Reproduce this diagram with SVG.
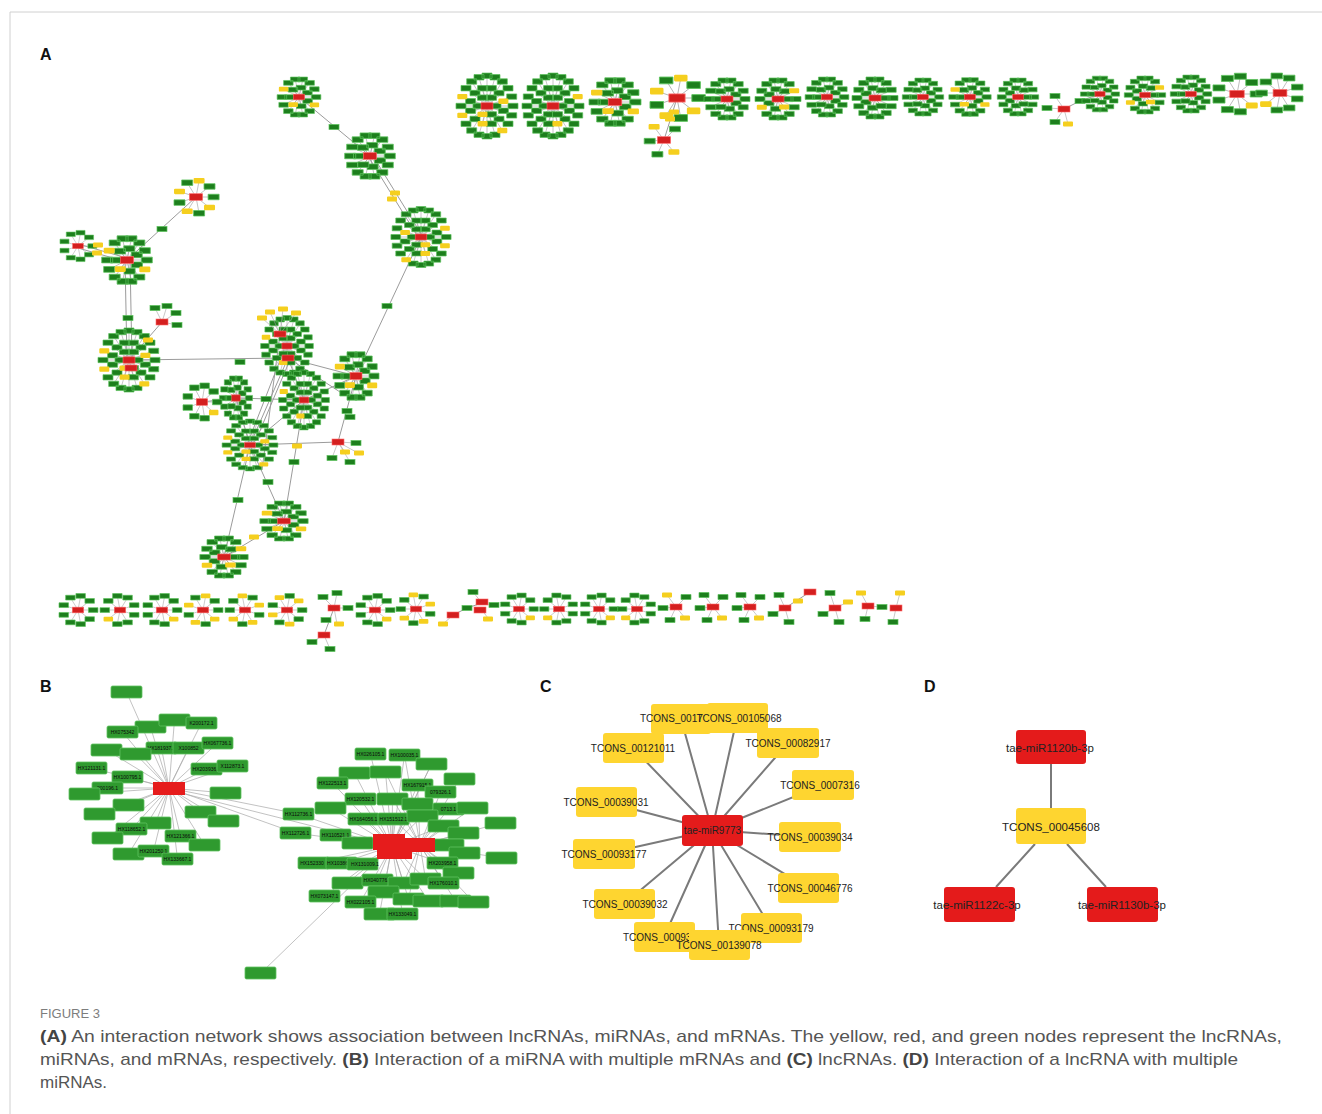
<svg xmlns="http://www.w3.org/2000/svg" width="1322" height="1114" viewBox="0 0 1322 1114">
<style>
.sp{stroke:#a3a3a3;stroke-width:0.6;fill:none}
.gA{fill:#1d7f1d;stroke:#5cc25c;stroke-width:0.7}
.yA{fill:#f5cf1f;stroke:#f5cf1f;stroke-width:2;stroke-linejoin:round}
.rA{fill:#d41f1f;stroke:#ff6a6a;stroke-width:0.6}
.eA{stroke:#9b9b9b;stroke-width:1;fill:none}
.gB{fill:#2f9a2f;stroke:#5fc35f;stroke-width:0.8}
.rB{fill:#e61c1c}
.eB{stroke:#a8a8a8;stroke-width:0.7;fill:none}
.tB{font-family:"Liberation Sans",Arial,sans-serif;font-size:5px;fill:#0a0a0a;text-anchor:middle}
.yC{fill:#fed530}
.rC{fill:#e41b1b}
.eC{stroke:#7a7a7a;stroke-width:2;fill:none}
.tC{font-family:"Liberation Sans",Arial,sans-serif;font-size:10px;fill:#222;text-anchor:middle}
.tD{font-family:"Liberation Sans",Arial,sans-serif;font-size:11.5px;fill:#222;text-anchor:middle}
.lbl{font-family:"Liberation Sans",Arial,sans-serif;font-size:16px;font-weight:bold;fill:#111}
.cap{font-family:"Liberation Sans",Arial,sans-serif;font-size:17px;fill:#555}
.capb{font-weight:bold;fill:#444}
</style>
<defs>
<rect id="hub" class="rA" x="-6" y="-3" width="12" height="6"/>
<rect id="gn" class="gA" x="-5" y="-2.5" width="10" height="5"/>
<rect id="yn" class="yA" x="-4" y="-1.5" width="8" height="3"/>
<path id="spL" d="M0 0 26 0M0 0 24.7 8.7M0 0 21 16.5M0 0 15.3 22.7M0 0 8 26.6M0 0 0 28M0 0 -8 26.6M0 0 -15.3 22.7M0 0 -21 16.5M0 0 -24.7 8.7M0 0 -26 0M0 0 -24.7 -8.7M0 0 -21 -16.5M0 0 -15.3 -22.7M0 0 -8 -26.6M0 0 0 -28M0 0 8 -26.6M0 0 15.3 -22.7M0 0 21 -16.5M0 0 24.7 -8.7M0 0 16.4 4.4M0 0 12 12M0 0 4.4 16.4M0 0 -4.4 16.4M0 0 -12 12M0 0 -16.4 4.4M0 0 -16.4 -4.4M0 0 -12 -12M0 0 -4.4 -16.4M0 0 4.4 -16.4M0 0 12 -12M0 0 16.4 -4.4"/>
<path id="Lg" d="M21 -2.5h10v5h-10zM19.7 6.2h10v5h-10zM16 14h10v5h-10zM3 24.1h10v5h-10zM-5 25.5h10v5h-10zM-13 24.1h10v5h-10zM-20.3 20.2h10v5h-10zM-26 14h10v5h-10zM-31 -2.5h10v5h-10zM-26 -19h10v5h-10zM-20.3 -25.2h10v5h-10zM-13 -29.1h10v5h-10zM-5 -30.5h10v5h-10zM3 -29.1h10v5h-10zM10.3 -25.2h10v5h-10zM16 -19h10v5h-10zM19.7 -11.2h10v5h-10zM11.4 1.9h10v5h-10zM7 9.5h10v5h-10zM-0.6 13.9h10v5h-10zM-17 9.5h10v5h-10zM-21.4 1.9h10v5h-10zM-21.4 -6.9h10v5h-10zM-17 -14.5h10v5h-10zM-9.4 -18.9h10v5h-10zM-0.6 -18.9h10v5h-10zM7 -14.5h10v5h-10zM4 -2.5h10v5h-10zM-0.5 5.3h10v5h-10zM-14 -2.5h10v5h-10zM-9.5 -10.3h10v5h-10zM-0.5 -10.3h10v5h-10z"/>
<g id="L0"><use href="#spL" class="sp"/><use href="#Lg" class="gA"/><path class="yA" d="M11.3 21.2h8v3h-8zM-28.7 7.2h8v3h-8zM-28.7 -10.2h8v3h-8zM-8.4 14.9h8v3h-8zM12.4 -5.9h8v3h-8zM-8.5 6.3h8v3h-8z"/><use href="#hub"/></g>
<g id="L1"><use href="#spL" class="sp"/><use href="#Lg" class="gA"/><path class="gA" d="M10.3 20.2h10v5h-10zM-29.7 6.2h10v5h-10zM11.4 -6.9h10v5h-10zM-9.5 5.3h10v5h-10z"/><path class="yA" d="M-28.7 -10.2h8v3h-8zM-8.4 14.9h8v3h-8z"/><use href="#hub"/></g>
<path id="spM" d="M0 0 18 0M0 0 16.2 8.2M0 0 11.2 14.9M0 0 4 18.5M0 0 -4 18.5M0 0 -11.2 14.9M0 0 -16.2 8.2M0 0 -18 0M0 0 -16.2 -8.2M0 0 -11.2 -14.9M0 0 -4 -18.5M0 0 4 -18.5M0 0 11.2 -14.9M0 0 16.2 -8.2M0 0 9.1 4.2M0 0 2.4 9.7M0 0 -6.1 7.9M0 0 -10 0M0 0 -6.4 -7.7M0 0 2.1 -9.8M0 0 8.9 -4.5"/>
<path id="Mg" d="M13 -2.5h10v5h-10zM6.2 12.4h10v5h-10zM-1 16h10v5h-10zM-9 16h10v5h-10zM-16.2 12.4h10v5h-10zM-21.2 5.7h10v5h-10zM-23 -2.5h10v5h-10zM-16.2 -17.4h10v5h-10zM-9 -21h10v5h-10zM-1 -21h10v5h-10zM6.2 -17.4h10v5h-10zM11.2 -10.7h10v5h-10zM4.1 1.7h10v5h-10zM-2.6 7.2h10v5h-10zM-15 -2.4h10v5h-10zM-11.4 -10.2h10v5h-10zM-2.9 -12.3h10v5h-10zM3.9 -7h10v5h-10z"/>
<g id="M0"><use href="#spM" class="sp"/><use href="#Mg" class="gA"/><path class="gA" d="M11.2 5.7h10v5h-10zM-21.2 -10.7h10v5h-10zM-11.1 5.4h10v5h-10z"/><use href="#hub"/></g>
<g id="M1"><use href="#spM" class="sp"/><use href="#Mg" class="gA"/><path class="yA" d="M12.2 6.7h8v3h-8zM-20.2 -9.7h8v3h-8zM-10.1 6.4h8v3h-8z"/><use href="#hub"/></g>
<path id="spS" d="M0 0 16 0M0 0 12.3 9.6M0 0 2.8 14.8M0 0 -8 13M0 0 -15 5.1M0 0 -15 -5.1M0 0 -8 -13M0 0 2.8 -14.8M0 0 12.3 -9.6"/>
<path id="Sg" d="M11 -2.5h10v5h-10zM-2.2 12.3h10v5h-10zM-20 2.6h10v5h-10zM-13 -15.5h10v5h-10zM7.3 -12.1h10v5h-10z"/>
<path id="Sx" d="M-13 10.5h10v5h-10zM-20 -7.6h10v5h-10zM-2.2 -17.3h10v5h-10z"/>
<g id="S0"><use href="#spS" class="sp"/><use href="#Sg" class="gA"/><use href="#Sx" class="gA"/><path class="gA" d="M7.3 7.1h10v5h-10z"/><use href="#hub"/></g>
<g id="S1"><use href="#spS" class="sp"/><use href="#Sg" class="gA"/><use href="#Sx" class="gA"/><path class="yA" d="M8.3 8.1h8v3h-8z"/><use href="#hub"/></g>
<g id="S3"><use href="#spS" class="sp"/><use href="#Sg" class="gA"/><path class="yA" d="M8.3 8.1h8v3h-8zM-12 11.5h8v3h-8zM-19 -6.6h8v3h-8zM-1.2 -16.3h8v3h-8z"/><use href="#hub"/></g>
<path id="spP" d="M0 0 -9 -12M0 0 10 -10M0 0 -13 1M0 0 -6 13M0 0 9 11"/>
<g id="P1"><use href="#spP" class="sp"/><path class="gA" d="M-14 -14.5h10v5h-10zM5 -12.5h10v5h-10zM-18 -1.5h10v5h-10zM-11 10.5h10v5h-10z"/><path class="yA" d="M5 9.5h8v3h-8z"/><use href="#hub"/></g>
<g id="P2"><use href="#spP" class="sp"/><path class="gA" d="M5 -12.5h10v5h-10zM-18 -1.5h10v5h-10zM-11 10.5h10v5h-10z"/><path class="yA" d="M-13 -13.5h8v3h-8zM5 9.5h8v3h-8z"/><use href="#hub"/></g>
<rect id="bn" class="gB" width="31" height="12" rx="1.5"/>
</defs>
<rect width="1322" height="1114" fill="#fff"/>
<path d="M10 1114V12H1322" fill="none" stroke="#d0d0d0" stroke-width="1"/>
<text class="lbl" x="40" y="60">A</text>
<text class="lbl" x="40" y="692">B</text>
<text class="lbl" x="540" y="692">C</text>
<text class="lbl" x="924" y="692">D</text>

<!-- Panel A connectors -->
<g id="panelA-edges" class="eA">
<path d="M299 97L370 156M368 156L418 237M373 156L423 237M421 237L356 376M196 197L127 260M78 244L127 258M78 248L127 262M125 260L127 360M130 260L132 360M162 322L129 360M129 360L288 358M288 358L356 376M288 358L250 445M284 350L247 445M292 355L256 440M280 334L262 470M288 358L304 400M236 398L304 400M202 402L236 398M236 398L250 445M250 445L338 442M356 376L338 442M304 400L284 521M250 445L224 557M250 445L284 521M284 521L224 557M356 376L304 400M304 400L250 445M288 358L340 392M664 140L677 98M1064 109L1080 101L1100 94M334 608L324 635M453 615L467 608L482 603M785 608L810 592"/>
</g>

<!-- Panel A top row -->
<g id="a-t1"><use href="#L0" transform="translate(487,106) scale(1,1.08)"/></g>
<g id="a-t2"><use href="#L1" transform="translate(553,106) scale(-1,1.08)"/></g>
<g id="a-t3"><use href="#M1" transform="translate(615,102) scale(1.13,1.15)"/></g>
<g id="a-t4"><use href="#S3" transform="translate(677,98) scale(1.35)"/></g>
<g id="a-t4b"><use href="#P2" transform="translate(664,140) scale(1.1)"/></g>
<g id="a-t5"><use href="#M0" transform="translate(727,99)"/></g>
<g id="a-t6"><use href="#M1" transform="translate(778,99) scale(-1,1)"/></g>
<g id="a-t7"><use href="#M0" transform="translate(827,97) scale(0.95)"/></g>
<g id="a-t8"><use href="#M0" transform="translate(875,98) scale(-1,1)"/></g>
<g id="a-t9"><use href="#M0" transform="translate(923,97) scale(0.9)"/></g>
<g id="a-t10"><use href="#M1" transform="translate(970,97) scale(0.92)"/></g>
<g id="a-t11"><use href="#M0" transform="translate(1018,97) scale(-0.9,0.9)"/></g>
<g id="a-t12"><path class="sp" d="M1064 109 1055 96M1064 109 1047 108M1064 109 1055 122M1064 109 1068 124"/><use href="#gn" x="1055" y="96"/><use href="#gn" x="1047" y="108"/><use href="#gn" x="1055" y="122"/><use href="#yn" x="1068" y="124"/><use href="#gn" x="1080" y="101"/><use href="#hub" x="1064" y="109"/></g>
<g id="a-t13"><use href="#M0" transform="translate(1100,94) scale(0.85)"/></g>
<g id="a-t14"><use href="#M1" transform="translate(1145,95) scale(-0.9,0.9)"/></g>
<g id="a-t15"><use href="#M0" transform="translate(1191,94) scale(0.9)"/></g>
<g id="a-t16"><use href="#S1" transform="translate(1237,94) scale(1.2)"/></g>
<g id="a-t17"><use href="#S1" transform="translate(1280,93) scale(-1.15,1.15)"/></g>

<!-- Panel A main component -->
<g id="a-ca"><use href="#M1" transform="translate(299,97) scale(0.95)"/></g>
<g id="a-cb"><use href="#M0" transform="translate(370,156) scale(1.1)"/></g>
<g id="a-cc"><use href="#L0" transform="translate(421,237) scale(-0.97,1)"/></g>
<g id="a-cd"><use href="#S3" transform="translate(196,197) scale(1.1)"/></g>
<g id="a-cf"><use href="#M1" transform="translate(127,260) scale(1.1,1.15)"/></g>
<g id="a-cg"><use href="#S0" transform="translate(78,246) scale(0.9)"/></g>
<g id="a-ch"><use href="#L0" transform="translate(129,360) scale(1,1.05)"/><use href="#hub" x="131" y="368"/></g>
<g id="a-cs"><path class="sp" d="M162 322 155 308M162 322 167 306M162 322 176 313M162 322 177 325"/><use href="#gn" x="155" y="308"/><use href="#gn" x="167" y="306"/><use href="#gn" x="176" y="313"/><use href="#gn" x="177" y="325"/><use href="#hub" x="162" y="322"/></g>
<g id="a-ci"><use href="#L1" transform="translate(287,346) scale(0.85,1)"/><path class="sp" d="M280 334 270 312M280 334 283 309M280 334 296 313M280 334 262 318"/><use href="#yn" x="270" y="312"/><use href="#yn" x="283" y="309"/><use href="#yn" x="296" y="313"/><use href="#yn" x="262" y="318"/><use href="#hub" x="280" y="334"/><use href="#hub" x="288" y="358"/></g>
<g id="a-cj"><use href="#M1" transform="translate(356,376) scale(1,1.15)"/></g>
<g id="a-cl"><use href="#M0" transform="translate(236,398) scale(0.72,1.05)"/></g>
<g id="a-cm"><use href="#S1" transform="translate(202,402) scale(0.95,1.1)"/></g>
<g id="a-ck"><use href="#L1" transform="translate(304,400) scale(0.82,0.98)"/></g>
<g id="a-cn"><use href="#L0" transform="translate(250,445) scale(0.9,0.85)"/></g>
<g id="a-co"><path class="sp" d="M338 442 356 443M338 442 332 458M338 442 350 462M338 442 345 452M338 442 358 453"/><use href="#gn" x="356" y="443"/><use href="#gn" x="332" y="458"/><use href="#gn" x="350" y="462"/><use href="#yn" x="345" y="452"/><use href="#yn" x="359" y="453"/><use href="#hub" x="338" y="442"/></g>
<g id="a-cp"><use href="#M1" transform="translate(284,521) scale(1.05,0.95)"/></g>
<g id="a-cq"><use href="#M1" transform="translate(224,557) scale(-1.05,1)"/></g>

<!-- Panel A link nodes -->
<g id="a-links">
<use href="#gn" x="334" y="127"/><use href="#yn" x="395" y="193"/><use href="#yn" x="392" y="199"/><use href="#gn" x="387" y="306"/><use href="#gn" x="162" y="229"/><use href="#yn" x="98" y="245"/><use href="#yn" x="97" y="253"/><use href="#gn" x="128" y="318"/><use href="#yn" x="148" y="340"/><use href="#gn" x="240" y="362"/><use href="#gn" x="266" y="399"/><use href="#yn" x="297" y="446"/><use href="#gn" x="347" y="411"/><use href="#gn" x="350" y="417"/><use href="#gn" x="294" y="462"/><use href="#gn" x="238" y="500"/><use href="#gn" x="268" y="482"/><use href="#yn" x="254" y="537"/><use href="#yn" x="670" y="119"/><use href="#yn" x="674" y="112"/>
</g>

<!-- Panel A bottom row -->
<g id="a-b1"><use href="#S0" transform="translate(78,610) scale(0.95)"/></g>
<g id="a-b2"><use href="#S1" transform="translate(120,610) scale(-0.95,0.95)"/></g>
<g id="a-b3"><use href="#S1" transform="translate(162,610) scale(0.95)"/></g>
<g id="a-b4"><use href="#S3" transform="translate(203,610) scale(0.95)"/></g>
<g id="a-b5"><use href="#S3" transform="translate(245,610) scale(-0.95,0.95)"/></g>
<g id="a-b6"><use href="#S3" transform="translate(287,610) scale(0.95,-0.95)"/></g>
<g id="a-b7"><path class="sp" d="M334 608 323 597M334 608 337 593M334 608 348 608M334 608 337 624M324 635 312 642M324 635 330 649"/><use href="#gn" x="323" y="597"/><use href="#gn" x="337" y="593"/><use href="#gn" x="348" y="608"/><use href="#gn" x="326" y="620"/><use href="#yn" x="339" y="624"/><use href="#gn" x="312" y="642"/><use href="#gn" x="330" y="649"/><use href="#hub" x="334" y="608"/><use href="#hub" x="324" y="635"/></g>
<g id="a-b8"><use href="#S1" transform="translate(375,610) scale(0.95)"/></g>
<g id="a-b9"><use href="#S3" transform="translate(416,609) scale(-0.95,0.95)"/></g>
<g id="a-b10"><path class="sp" d="M453 615 443 624"/><use href="#yn" x="443" y="624"/><use href="#gn" x="467" y="608"/><use href="#hub" x="453" y="615"/></g>
<g id="a-b11"><path class="sp" d="M482 603 473 592M482 603 493 605M481 609 488 618"/><use href="#gn" x="473" y="592"/><use href="#gn" x="494" y="605"/><use href="#yn" x="488" y="619"/><use href="#hub" x="482" y="602"/><use href="#hub" x="480" y="610"/></g>
<g id="a-b12"><use href="#S1" transform="translate(519,609) scale(0.92)"/></g>
<g id="a-b13"><use href="#S1" transform="translate(559,609) scale(-0.92,0.92)"/></g>
<g id="a-b14"><use href="#S1" transform="translate(599,609) scale(0.92)"/></g>
<g id="a-b15"><use href="#S1" transform="translate(637,609) scale(-0.92,0.92)"/></g>
<g id="a-b16"><use href="#P2" transform="translate(676,607)"/></g>
<g id="a-b17"><use href="#P1" transform="translate(713,607)"/></g>
<g id="a-b18"><use href="#P1" transform="translate(750,607)"/></g>
<g id="a-b19"><path class="sp" d="M785 608 779 595M785 608 773 614M785 608 789 622"/><use href="#gn" x="779" y="595"/><use href="#gn" x="773" y="614"/><use href="#gn" x="789" y="622"/><use href="#yn" x="798" y="601"/><use href="#hub" x="785" y="608"/><use href="#hub" x="810" y="592"/></g>
<g id="a-b20"><path class="sp" d="M835 608 830 593M835 608 823 614M835 608 839 622M835 608 848 602"/><use href="#gn" x="830" y="593"/><use href="#gn" x="823" y="614"/><use href="#gn" x="839" y="622"/><use href="#yn" x="848" y="602"/><use href="#hub" x="835" y="608"/></g>
<g id="a-b21"><path class="sp" d="M868 606 861 593M868 606 882 607M868 606 865 619"/><use href="#yn" x="861" y="593"/><use href="#gn" x="882" y="607"/><use href="#gn" x="865" y="619"/><use href="#hub" x="868" y="606"/></g>
<g id="a-b22"><path class="sp" d="M896 608 900 593M896 608 893 622"/><use href="#yn" x="900" y="593"/><use href="#gn" x="893" y="622"/><use href="#hub" x="896" y="608"/></g>

<!-- Panel B connectors -->
<g id="panelB-edges" class="eB">
<path d="M169 788L126.5 692M169 788L150.5 727M169 788L174.5 720M169 788L201.5 723M169 788L122.5 732M169 788L161.5 748M169 788L188.5 748M169 788L217.5 743M169 788L106.5 750M169 788L135.5 754M169 788L91.5 768M169 788L127.5 777M169 788L206.5 769M169 788L232.5 766M169 788L107.5 788M169 788L84.5 794M169 788L225.5 793M169 788L128.5 805M169 788L99.5 814M169 788L200.5 812M169 788L223.5 821M169 788L155.5 823M169 788L131.5 829M169 788L107.5 838M169 788L180.5 836M169 788L204.5 845M169 788L128.5 854M169 788L153.5 851M169 788L177.5 859"/>
<path d="M169 788L298.5 814M169 788L295.5 833M169 790L392 846M298.5 814L392 846M295.5 833L392 846M392 846L261 973"/>
<path d="M392 846L370.5 754M392 846L404.5 755M392 846L431.5 764M392 846L354.5 773M392 846L385.5 772M420 845L459.5 779M392 846L332.5 783M392 846L417.5 785M420 845L440.5 792M392 846L360.5 799M392 846L392.5 799M392 846L417.5 804M392 846L330.5 808M420 845L448.5 809M420 845L472.5 808M392 846L363.5 819M392 846L393.5 819M392 846L422.5 816M420 845L443.5 826M420 845L500.5 823M420 845L463.5 833M392 846L335.5 835M392 846L357.5 843M420 845L448.5 845M420 845L464.5 853M420 845L501.5 858M392 846L313.5 863M392 846L341.5 863M392 846L362.5 864M420 845L442.5 863M420 845L458.5 873M392 846L347.5 883M392 846L377.5 880M392 846L403.5 883M392 846L425.5 879M420 845L443.5 883M392 846L324.5 896M392 846L383.5 892M392 846L360.5 902M392 846L408.5 899M392 846L428.5 901M420 845L455.5 901M420 845L473.5 902M392 846L379.5 914M392 846L402.5 914M392 846L431.5 764M420 845L404.5 755M420 845L385.5 772M420 845L417.5 785M420 845L392.5 799M420 845L393.5 819M420 845L403.5 883M420 845L408.5 899M420 845L425.5 879M392 846L443.5 826M392 846L448.5 845M392 846L442.5 863"/>
</g>

<!-- Panel B nodes: left cluster -->
<g id="b-l1"><use href="#bn" x="111" y="686"/></g>
<g id="b-l2"><use href="#bn" x="135" y="721"/></g>
<g id="b-l3"><use href="#bn" x="159" y="714"/></g>
<g id="b-l4"><use href="#bn" x="186" y="717"/><text class="tB" x="201.5" y="725">K200172.1</text></g>
<g id="b-l5"><use href="#bn" x="107" y="726"/><text class="tB" x="122.5" y="734">HX075342</text></g>
<g id="b-l6"><use href="#bn" x="146" y="742"/><text class="tB" x="161.5" y="750">HX181937.1</text></g>
<g id="b-l7"><use href="#bn" x="173" y="742"/><text class="tB" x="188.5" y="750">X100852</text></g>
<g id="b-l8"><use href="#bn" x="202" y="737"/><text class="tB" x="217.5" y="745">HX067736.1</text></g>
<g id="b-l9"><use href="#bn" x="91" y="744"/></g>
<g id="b-l10"><use href="#bn" x="120" y="748"/></g>
<g id="b-l11"><use href="#bn" x="76" y="762"/><text class="tB" x="91.5" y="770">HX121131.1</text></g>
<g id="b-l12"><use href="#bn" x="112" y="771"/><text class="tB" x="127.5" y="779">HX100795.1</text></g>
<g id="b-l13"><use href="#bn" x="191" y="763"/><text class="tB" x="206.5" y="771">HX203936.1</text></g>
<g id="b-l14"><use href="#bn" x="217" y="760"/><text class="tB" x="232.5" y="768">X112873.1</text></g>
<g id="b-l15"><use href="#bn" x="92" y="782"/><text class="tB" x="107.5" y="790">200196.1</text></g>
<g id="b-l16"><use href="#bn" x="69" y="788"/></g>
<g id="b-l17"><use href="#bn" x="210" y="787"/></g>
<g id="b-l18"><use href="#bn" x="113" y="799"/></g>
<g id="b-l19"><use href="#bn" x="84" y="808"/></g>
<g id="b-l20"><use href="#bn" x="185" y="806"/></g>
<g id="b-l21"><use href="#bn" x="208" y="815"/></g>
<g id="b-l22"><use href="#bn" x="140" y="817"/></g>
<g id="b-l23"><use href="#bn" x="116" y="823"/><text class="tB" x="131.5" y="831">HX118652.1</text></g>
<g id="b-l24"><use href="#bn" x="92" y="832"/></g>
<g id="b-l25"><use href="#bn" x="165" y="830"/><text class="tB" x="180.5" y="838">HX121366.1</text></g>
<g id="b-l26"><use href="#bn" x="189" y="839"/></g>
<g id="b-l27"><use href="#bn" x="113" y="848"/></g>
<g id="b-l28"><use href="#bn" x="138" y="845"/><text class="tB" x="153.5" y="853">HX201250.1</text></g>
<g id="b-l29"><use href="#bn" x="162" y="853"/><text class="tB" x="177.5" y="861">HX133667.1</text></g>

<!-- Panel B nodes: right cluster -->
<g id="b-r1"><use href="#bn" x="355" y="748"/><text class="tB" x="370.5" y="756">HX026105.1</text></g>
<g id="b-r2"><use href="#bn" x="389" y="749"/><text class="tB" x="404.5" y="757">HX100035.1</text></g>
<g id="b-r3"><use href="#bn" x="416" y="758"/></g>
<g id="b-r4"><use href="#bn" x="339" y="767"/></g>
<g id="b-r5"><use href="#bn" x="370" y="766"/></g>
<g id="b-r6"><use href="#bn" x="444" y="773"/></g>
<g id="b-r7"><use href="#bn" x="317" y="777"/><text class="tB" x="332.5" y="785">HX122513.1</text></g>
<g id="b-r8"><use href="#bn" x="402" y="779"/><text class="tB" x="417.5" y="787">HX167915.1</text></g>
<g id="b-r9"><use href="#bn" x="425" y="786"/><text class="tB" x="440.5" y="794">079326.1</text></g>
<g id="b-r10"><use href="#bn" x="345" y="793"/><text class="tB" x="360.5" y="801">HX120532.1</text></g>
<g id="b-r11"><use href="#bn" x="377" y="793"/></g>
<g id="b-r12"><use href="#bn" x="402" y="798"/></g>
<g id="b-r13"><use href="#bn" x="315" y="802"/></g>
<g id="b-r14"><use href="#bn" x="433" y="803"/><text class="tB" x="448.5" y="811">0713.1</text></g>
<g id="b-r15"><use href="#bn" x="457" y="802"/></g>
<g id="b-r16"><use href="#bn" x="283" y="808"/><text class="tB" x="298.5" y="816">HX112736.1</text></g>
<g id="b-r17"><use href="#bn" x="348" y="813"/><text class="tB" x="363.5" y="821">HX164056.1</text></g>
<g id="b-r18"><use href="#bn" x="378" y="813"/><text class="tB" x="393.5" y="821">HX151512.1</text></g>
<g id="b-r19"><use href="#bn" x="407" y="810"/></g>
<g id="b-r20"><use href="#bn" x="428" y="820"/></g>
<g id="b-r21"><use href="#bn" x="485" y="817"/></g>
<g id="b-r22"><use href="#bn" x="448" y="827"/></g>
<g id="b-r23"><use href="#bn" x="280" y="827"/><text class="tB" x="295.5" y="835">HX112726.1</text></g>
<g id="b-r24"><use href="#bn" x="320" y="829"/><text class="tB" x="335.5" y="837">HX110521.1</text></g>
<g id="b-r25"><use href="#bn" x="342" y="837"/></g>
<g id="b-r26"><use href="#bn" x="433" y="839"/></g>
<g id="b-r27"><use href="#bn" x="449" y="847"/></g>
<g id="b-r28"><use href="#bn" x="486" y="852"/></g>
<g id="b-r29"><use href="#bn" x="298" y="857"/><text class="tB" x="312" y="865">HX152330</text></g>
<g id="b-r30"><use href="#bn" x="326" y="857"/><text class="tB" x="337.5" y="865">HX10386</text></g>
<g id="b-r31"><use href="#bn" x="347" y="858"/><text class="tB" x="365" y="866">HX131009.1</text></g>
<g id="b-r32"><use href="#bn" x="427" y="857"/><text class="tB" x="442.5" y="865">HX203958.1</text></g>
<g id="b-r33"><use href="#bn" x="443" y="867"/></g>
<g id="b-r34"><use href="#bn" x="332" y="877"/></g>
<g id="b-r35"><use href="#bn" x="362" y="874"/><text class="tB" x="377.5" y="882">HX040776.1</text></g>
<g id="b-r36"><use href="#bn" x="388" y="877"/></g>
<g id="b-r37"><use href="#bn" x="410" y="873"/></g>
<g id="b-r38"><use href="#bn" x="428" y="877"/><text class="tB" x="443.5" y="885">HX176010.1</text></g>
<g id="b-r39"><use href="#bn" x="309" y="890"/><text class="tB" x="324.5" y="898">HX073147.1</text></g>
<g id="b-r40"><use href="#bn" x="368" y="886"/></g>
<g id="b-r41"><use href="#bn" x="345" y="896"/><text class="tB" x="360.5" y="904">HX022105.1</text></g>
<g id="b-r42"><use href="#bn" x="393" y="893"/></g>
<g id="b-r43"><use href="#bn" x="413" y="895"/></g>
<g id="b-r44"><use href="#bn" x="440" y="895"/></g>
<g id="b-r45"><use href="#bn" x="458" y="896"/></g>
<g id="b-r46"><use href="#bn" x="364" y="908"/></g>
<g id="b-r47"><use href="#bn" x="387" y="908"/><text class="tB" x="402.5" y="916">HX133049.1</text></g>
<g id="b-far"><use href="#bn" x="245" y="967"/></g>
<g id="b-hub1"><rect class="rB" x="153" y="782" width="32" height="13"/></g>
<g id="b-hub2"><rect class="rB" x="373" y="834" width="32" height="16"/><rect class="rB" x="377" y="848" width="35" height="11"/><rect class="rB" x="405" y="838" width="30" height="14"/></g>

<!-- Panel C connectors -->
<g id="panelC-edges" class="eC">
<path d="M712 830L681 719M712 830L737 718M712 830L633 748M712 830L788 743M712 830L823 785M712 830L606 802M712 830L810 837M712 830L604 854M712 830L808 888M712 830L624 904M712 830L771 928M712 830L664 937M712 830L719 945"/>
</g>
<!-- Panel C nodes -->
<g id="c-n1"><rect class="yC" x="651" y="704" width="60" height="30" rx="3"/><text class="tC" x="640" y="722" style="text-anchor:start">TCONS_0017</text></g>
<g id="c-n2"><rect class="yC" x="707" y="703" width="61" height="30" rx="3"/><text class="tC" x="739" y="721.5">TCONS_00105068</text></g>
<g id="c-n3"><rect class="yC" x="603" y="733" width="61" height="30" rx="3"/><text class="tC" x="633" y="751.5">TCONS_00121011</text></g>
<g id="c-n4"><rect class="yC" x="757" y="728" width="62" height="30" rx="3"/><text class="tC" x="788" y="746.5">TCONS_00082917</text></g>
<g id="c-n5"><rect class="yC" x="792" y="770" width="62" height="30" rx="3"/><text class="tC" x="820" y="788.5">TCONS_0007316</text></g>
<g id="c-n6"><rect class="yC" x="576" y="787" width="61" height="30" rx="3"/><text class="tC" x="606" y="805.5">TCONS_00039031</text></g>
<g id="c-n7"><rect class="yC" x="779" y="822" width="62" height="30" rx="3"/><text class="tC" x="810" y="840.5">TCONS_00039034</text></g>
<g id="c-n8"><rect class="yC" x="573" y="839" width="62" height="30" rx="3"/><text class="tC" x="604" y="857.5">TCONS_00093177</text></g>
<g id="c-n9"><rect class="yC" x="778" y="873" width="61" height="30" rx="3"/><text class="tC" x="810" y="891.5">TCONS_00046776</text></g>
<g id="c-n10"><rect class="yC" x="594" y="889" width="61" height="30" rx="3"/><text class="tC" x="625" y="907.5">TCONS_00039032</text></g>
<g id="c-n11"><rect class="yC" x="741" y="913" width="61" height="30" rx="3"/><text class="tC" x="771" y="931.5">TCONS_00093179</text></g>
<g id="c-n12"><rect class="yC" x="634" y="922" width="61" height="30" rx="3"/><text class="tC" x="623" y="940.5" style="text-anchor:start">TCONS_00093</text></g>
<g id="c-n13"><rect class="yC" x="689" y="930" width="61" height="30" rx="3"/><text class="tC" x="719" y="948.5">TCONS_00139078</text></g>
<g id="c-hub"><rect class="rC" x="682" y="815" width="61" height="31" rx="3"/><text class="tC" x="712.5" y="834">tae-miR9773</text></g>

<!-- Panel D -->
<g id="panelD-edges" class="eC">
<path d="M1051 764V808M1035 844L996 887M1067 844L1106 887"/>
</g>
<g id="d-n1"><rect class="rC" x="1016" y="730" width="70" height="34" rx="3"/><text class="tD" x="1050" y="752">tae-miR1120b-3p</text></g>
<g id="d-n2"><rect class="yC" x="1016" y="808" width="70" height="36" rx="3"/><text class="tD" x="1051" y="831">TCONS_00045608</text></g>
<g id="d-n3"><rect class="rC" x="944" y="887" width="71" height="35" rx="3"/><text class="tD" x="977" y="909">tae-miR1122c-3p</text></g>
<g id="d-n4"><rect class="rC" x="1087" y="887" width="71" height="35" rx="3"/><text class="tD" x="1122" y="909">tae-miR1130b-3p</text></g>

<!-- Caption -->
<g id="caption">
<text x="40" y="1018" font-family="Liberation Sans, Arial, sans-serif" font-size="13" fill="#7d7d7d">FIGURE 3</text>
<text class="cap" x="40" y="1042" textLength="1242" lengthAdjust="spacingAndGlyphs"><tspan class="capb">(A)</tspan> An interaction network shows association between lncRNAs, miRNAs, and mRNAs. The yellow, red, and green nodes represent the lncRNAs,</text>
<text class="cap" x="40" y="1065" textLength="1198" lengthAdjust="spacingAndGlyphs">miRNAs, and mRNAs, respectively. <tspan class="capb">(B)</tspan> Interaction of a miRNA with multiple mRNAs and <tspan class="capb">(C)</tspan> lncRNAs. <tspan class="capb">(D)</tspan> Interaction of a lncRNA with multiple</text>
<text class="cap" x="40" y="1088">miRNAs.</text>
</g>
</svg>
